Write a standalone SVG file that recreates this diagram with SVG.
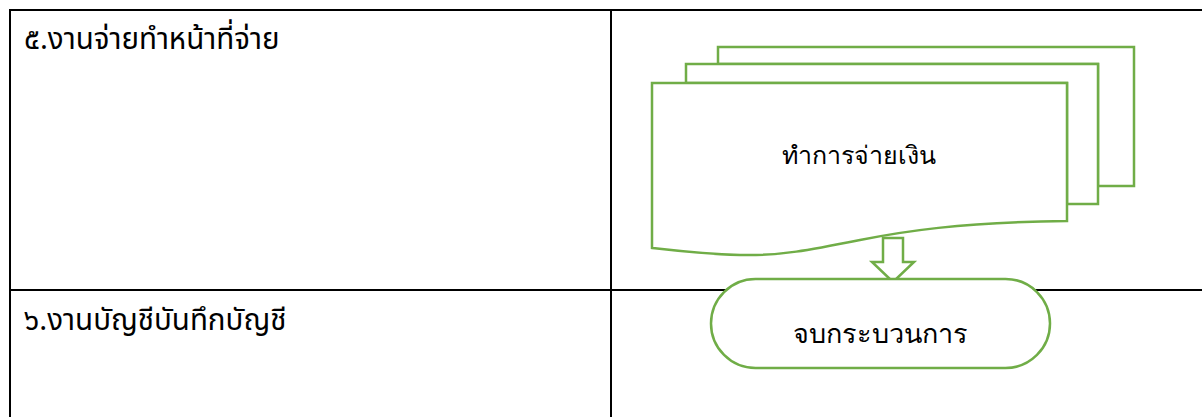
<svg xmlns="http://www.w3.org/2000/svg" width="1202" height="417" viewBox="0 0 1202 417">
<style>
.grid{stroke:#000;stroke-width:2;fill:none}
.shape{fill:#fff;stroke:#70ad47;stroke-width:2.5}
.lbl{font-family:"Noto Sans Thai","Liberation Sans","DejaVu Sans",sans-serif;font-size:29.5px;fill:#000}
.ntext{font-family:"Liberation Serif","DejaVu Serif",serif;font-weight:400;fill:#000;text-anchor:middle}
</style>
<rect width="1202" height="417" fill="#fff"/>
<g id="table">
<line class="grid" x1="10" y1="10" x2="1202" y2="10"/>
<line class="grid" x1="10" y1="290" x2="1202" y2="290"/>
<line class="grid" x1="10" y1="9" x2="10" y2="417"/>
<line class="grid" x1="611" y1="9" x2="611" y2="417"/>
<text class="lbl" x="24" y="49">๕.งานจ่ายทำหน้าที่จ่าย</text>
<text class="lbl" x="24" y="330">๖.งานบัญชีบันทึกบัญชี</text>
</g>
<g id="node-payment">
<path class="shape" d="M718,47 H1134 V186 H1098 V64 H718 Z"/>
<path class="shape" d="M686,64 H1098 V204 H1067 V83 H686 Z"/>
<path class="shape" d="M652,83 H1067 V221 C960,222 900,232 860,240 C810,250 780,256 740,255 C700,254 670,250 652,248 Z"/>
<text class="ntext" x="859" y="164" font-size="25">ทำการจ่ายเงิน</text>
</g>
<g id="connectors">
<path class="shape" d="M883,238 H903 V262 H914 L893,282 L872,262 H883 Z"/>
</g>
<g id="node-end">
<rect class="shape" x="711" y="279" width="339" height="89" rx="44.5"/>
<text class="ntext" x="880" y="343" font-size="27">จบกระบวนการ</text>
</g>
</svg>
